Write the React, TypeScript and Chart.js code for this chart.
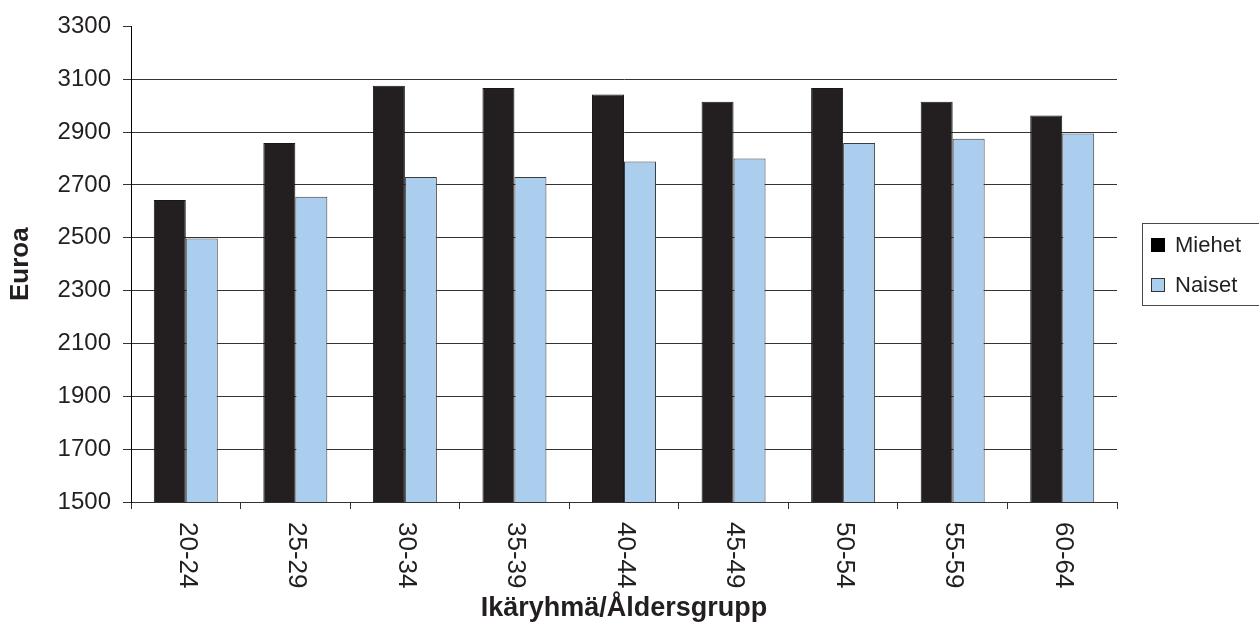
import React, { useEffect, useRef } from "react";
import { Chart, registerables } from "chart.js";

Chart.register(...registerables);

const categories = ["20-24", "25-29", "30-34", "35-39", "40-44", "45-49", "50-54", "55-59", "60-64"];
const miehet = [2643, 2859, 3075, 3067, 3042, 3015, 3067, 3015, 2963];
const naiset = [2497, 2655, 2730, 2730, 2789, 2800, 2859, 2875, 2895];
const seriesNames = ["Miehet", "Naiset"];
const yTitle = "Euroa";
const xTitle = "Ikäryhmä/Åldersgrupp";

const FONT = "'Liberation Sans', Arial, Helvetica, sans-serif";
const TEXT = "#231f20";

const rotatedXLabels = {
  id: "rotatedXLabels",
  afterDraw(chart: any) {
    const xs = chart.scales.x;
    const ctx = chart.ctx;
    ctx.save();
    ctx.fillStyle = TEXT;
    ctx.font = `26px ${FONT}`;
    ctx.textAlign = "left";
    ctx.textBaseline = "middle";
    const labels = chart.data.labels as string[];
    labels.forEach((lab, i) => {
      const x = xs.getPixelForValue(i);
      ctx.save();
      ctx.translate(x + 1, xs.top + 20);
      ctx.rotate(Math.PI / 2);
      ctx.fillText(lab, 0, 0);
      ctx.restore();
    });
    ctx.restore();
  },
};

const boxLegend = {
  id: "boxLegend",
  afterDraw(chart: any) {
    const ctx = chart.ctx;
    const ds = chart.data.datasets;
    const bx = 1142.5;
    const by = 223.5;
    ctx.save();
    ctx.strokeStyle = "#4a4a4a";
    ctx.lineWidth = 1;
    ctx.strokeRect(bx, by, 130, 82);
    ctx.font = `22px ${FONT}`;
    ctx.textBaseline = "middle";
    ctx.textAlign = "left";
    ds.forEach((d: any, i: number) => {
      const y = 238 + i * 40;
      ctx.fillStyle = i === 0 ? "#000000" : d.backgroundColor;
      ctx.fillRect(1151, y, 14, 14);
      if (i === 1) {
        ctx.strokeStyle = "#333";
        ctx.strokeRect(1151.5, y + 0.5, 13, 13);
      }
      ctx.fillStyle = TEXT;
      ctx.fillText(d.label, 1175, y + 8);
    });
    ctx.restore();
  },
};

export default function App() {
  const ref = useRef<HTMLCanvasElement | null>(null);
  useEffect(() => {
    if (!ref.current) return;
    const chart = new Chart(ref.current, {
      type: "bar",
      data: {
        labels: categories,
        datasets: [
          {
            label: seriesNames[0],
            data: miehet,
            backgroundColor: "#231f20",
            borderColor: "#1a1718",
            borderWidth: 1,
            categoryPercentage: 0.584,
            barPercentage: 1,
          },
          {
            label: seriesNames[1],
            data: naiset,
            backgroundColor: "#abcdee",
            borderColor: "#3c3c3c",
            borderWidth: 1,
            categoryPercentage: 0.584,
            barPercentage: 1,
          },
        ],
      },
      options: {
        responsive: false,
        animation: false,
        layout: { padding: { top: 18, right: 142, left: 0, bottom: 0 } },
        plugins: {
          legend: { display: false },
          tooltip: { enabled: false },
        },
        scales: {
          x: {
            grid: {
              offset: true,
              drawOnChartArea: false,
              drawTicks: true,
              tickLength: 7,
              tickColor: "#333",
            },
            border: { display: true, color: "#333", width: 1 },
            ticks: { color: "rgba(0,0,0,0)", font: { size: 10, family: FONT }, maxRotation: 0, minRotation: 0 },
            title: {
              display: true,
              text: xTitle,
              color: TEXT,
              font: { size: 27, weight: "bold", family: FONT },
              padding: { top: 0, bottom: 0 },
            },
            afterFit: (s: any) => {
              s.height = 123;
            },
          },
          y: {
            min: 1500,
            max: 3300,
            ticks: {
              stepSize: 200,
              color: TEXT,
              padding: 12,
              font: { size: 24, family: FONT },
              callback: (v: any) => String(v),
            },
            grid: {
              color: (c: any) => (c.tick && c.tick.value === 3300 ? "rgba(0,0,0,0)" : "#333"),
              tickColor: "#333",
              tickLength: 8,
              lineWidth: 1,
            },
            border: { display: true, color: "#000", width: 1 },
            title: {
              display: true,
              text: yTitle,
              color: TEXT,
              font: { size: 26, weight: "bold", family: FONT },
              padding: { top: 5, bottom: 0 },
            },
            afterFit: (s: any) => {
              s.width = 131;
            },
          },
        },
      },
      plugins: [rotatedXLabels, boxLegend],
    });
    return () => chart.destroy();
  }, []);
  return (
    <div style={{ position: "fixed", left: 0, top: 0, width: 1259, height: 625, background: "#fff" }}>
      <canvas ref={ref} width={1259} height={625} style={{ display: "block" }} />
    </div>
  );
}
